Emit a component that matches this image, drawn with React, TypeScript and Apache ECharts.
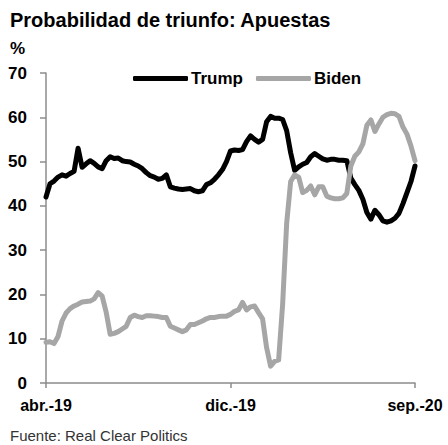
import React, { useEffect, useRef } from "react";
import * as echarts from "echarts";

// Weekly betting-market win probability (%), April 2019 – September 2020
const trump = [
  42.0, 45.0, 45.6, 46.5, 47.0, 46.7, 47.3, 47.8, 53.0, 48.7,
  49.5, 50.2, 49.6, 48.8, 48.4, 50.2, 51.1, 50.7, 50.8, 50.2,
  50.0, 49.9, 49.4, 49.0, 48.4, 47.5, 46.8, 46.5, 46.0, 46.2,
  47.0, 44.3, 44.0, 43.8, 43.7, 43.8, 43.9, 43.4, 43.2, 43.4,
  44.8, 45.2, 46.0, 47.0, 48.2, 50.0, 52.4, 52.6, 52.5, 52.7,
  54.5, 55.8, 55.0, 54.4, 55.0, 59.0, 60.2, 59.8, 59.8, 59.5,
  57.0, 52.0, 48.0, 48.8, 49.4, 49.8, 51.1, 51.8, 51.2, 50.6,
  50.3, 50.5, 50.5, 50.3, 50.3, 50.2, 46.3, 44.8, 43.5, 41.5,
  38.5, 37.0, 39.0, 38.0, 36.6, 36.3, 36.6, 37.2, 38.3, 40.5,
  43.0, 45.5, 49.0,
];

const biden = [
  9.2, 9.3, 8.9, 10.5, 14.0, 15.8, 16.8, 17.4, 17.8, 18.3,
  18.4, 18.5, 19.0, 20.4, 19.6, 16.0, 11.0, 11.2, 11.6, 12.2,
  12.8, 14.8, 15.3, 15.0, 14.8, 15.2, 15.2, 15.1, 15.0, 14.8,
  14.8, 12.8, 12.4, 12.0, 11.6, 12.0, 13.2, 13.2, 13.6, 14.0,
  14.5, 14.8, 14.8, 15.0, 15.1, 15.1, 15.5, 16.2, 16.5, 18.2,
  16.5, 17.2, 17.4, 15.9, 14.5, 8.0, 3.8, 4.9, 5.2, 17.8,
  36.0, 45.5, 47.0, 46.5, 43.0, 43.5, 44.5, 42.5, 44.3, 44.3,
  42.2, 41.8, 41.6, 41.6, 41.8, 42.8, 49.0, 51.2, 52.2, 54.0,
  58.2, 59.4, 56.8, 58.5, 60.0, 60.6, 60.9, 60.8, 60.2, 57.8,
  56.2, 53.5, 50.2,
];

const xTickIndex = [0, 46, 92];
const xTickLabels = ["abr.-19", "dic.-19", "sep.-20"];
const seriesNames = ["Trump", "Biden"];
const seriesColors = ["#000000", "#a6a6a6"];

const FONT = "'Liberation Sans', Arial, sans-serif";

export default function App() {
  const ref = useRef<HTMLDivElement>(null);

  useEffect(() => {
    if (!ref.current) return;
    const chart = echarts.init(ref.current, null, { renderer: "svg" });
    const lastIndex = trump.length - 1;

    chart.setOption({
      animation: false,
      backgroundColor: "#ffffff",
      textStyle: { fontFamily: FONT },
      title: {
        text: "Probabilidad de triunfo: Apuestas",
        left: 10,
        top: 10,
        padding: 0,
        textStyle: { fontFamily: FONT, fontSize: 20, fontWeight: "bold", color: "#000" },
      },
      legend: {
        data: seriesNames,
        left: 128,
        top: 65,
        icon: "roundRect",
        itemWidth: 55,
        itemHeight: 5,
        itemGap: 13,
        textStyle: { fontFamily: FONT, fontSize: 17, fontWeight: "bold", color: "#000", padding: [0, 0, 0, -2] },
      },
      graphic: [
        {
          type: "text",
          left: 10,
          top: 40,
          style: { text: "%", font: `bold 17px ${FONT}`, fill: "#000" },
        },
        {
          type: "text",
          left: 10,
          top: 428,
          style: { text: "Fuente: Real Clear Politics", font: `15px ${FONT}`, fill: "#333" },
        },
      ],
      grid: { left: 46, right: 33, top: 73, bottom: 62, containLabel: false },
      xAxis: {
        type: "value",
        min: 0,
        max: lastIndex,
        interval: 46,
        axisLine: { show: true, lineStyle: { color: "#8c8c8c", width: 1.5 } },
        axisTick: { show: true, length: 5, lineStyle: { color: "#8c8c8c", width: 1.5 } },
        splitLine: { show: false },
        axisLabel: {
          margin: 14,
          fontFamily: FONT,
          fontSize: 16,
          fontWeight: "bold",
          color: "#000",
          formatter: (v: number) => {
            const k = xTickIndex.indexOf(v);
            return k >= 0 ? xTickLabels[k] : "";
          },
        },
      },
      yAxis: {
        type: "value",
        min: 0,
        max: 70,
        interval: 10,
        axisLine: { show: true, lineStyle: { color: "#8c8c8c", width: 1.5 } },
        axisTick: { show: true, length: 6, lineStyle: { color: "#8c8c8c", width: 1.5 } },
        splitLine: { show: false },
        axisLabel: {
          margin: 19,
          fontFamily: FONT,
          fontSize: 17,
          fontWeight: "bold",
          color: "#000",
        },
      },
      series: [
        {
          name: seriesNames[0],
          type: "line",
          data: trump.map((v, i) => [i, v]),
          symbol: "none",
          itemStyle: { color: seriesColors[0] },
          lineStyle: { color: seriesColors[0], width: 5, cap: "round", join: "round" },
        },
        {
          name: seriesNames[1],
          type: "line",
          data: biden.map((v, i) => [i, v]),
          symbol: "none",
          itemStyle: { color: seriesColors[1] },
          lineStyle: { color: seriesColors[1], width: 5, cap: "round", join: "round" },
        },
      ],
    });

    return () => chart.dispose();
  }, []);

  return <div ref={ref} style={{ width: 448, height: 445, position: "absolute", left: 0, top: 0 }} />;
}
